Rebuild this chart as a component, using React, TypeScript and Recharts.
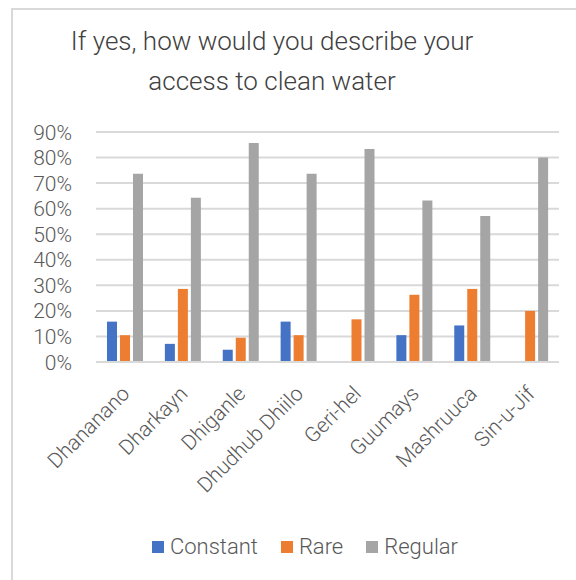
import { Bar, BarChart, CartesianGrid, Legend, XAxis, YAxis } from "recharts";

// Share of answers per village (fraction of respondents)
const villages = [
  "Dhananano",
  "Dharkayn",
  "Dhiganle",
  "Dhudhub Dhiilo",
  "Geri-hel",
  "Guumays",
  "Mashruuca",
  "Sin-u-Jif",
];
const constantShare = [0.158, 0.071, 0.048, 0.158, 0, 0.105, 0.143, 0];
const rareShare = [0.105, 0.286, 0.095, 0.105, 0.167, 0.263, 0.286, 0.2];
const regularShare = [0.737, 0.643, 0.857, 0.737, 0.833, 0.632, 0.571, 0.8];
const percentTicks = [0, 0.1, 0.2, 0.3, 0.4, 0.5, 0.6, 0.7, 0.8, 0.9];

const rows = villages.map((name, i) => ({
  name,
  constant: constantShare[i],
  rare: rareShare[i],
  regular: regularShare[i],
}));

const FONT = "Roboto, 'Noto Sans', sans-serif";
const TEXT = "#595959";
const GRID = "#D9D9D9";

function VillageTick(props: any) {
  const { x, y, payload } = props;
  return (
    <g transform={`translate(${x + 6},${y + 33})`}>
      <text
        transform="rotate(-45)"
        textAnchor="end"
        fill={TEXT}
        fontSize={21}
        fontWeight={300}
        fontFamily={FONT}
      >
        {payload.value}
      </text>
    </g>
  );
}

function PercentTick(props: any) {
  const { y, payload } = props;
  return (
    <text
      x={72}
      y={y}
      dy="0.36em"
      textAnchor="end"
      fill={TEXT}
      fontSize={21}
      fontWeight={300}
      fontFamily={FONT}
    >
      {`${Math.round(payload.value * 100)}%`}
    </text>
  );
}

function SeriesLegend(props: any) {
  const { payload = [] } = props;
  return (
    <div
      style={{
        display: "flex",
        justifyContent: "center",
        gap: 23,
        fontFamily: FONT,
        fontWeight: 300,
        fontSize: 22,
        color: TEXT,
        lineHeight: "24px",
      }}
    >
      {payload.map((item: any) => (
        <span key={item.value} style={{ display: "flex", alignItems: "center" }}>
          <span
            style={{
              width: 12,
              height: 12,
              background: item.color,
              marginRight: 6,
              display: "inline-block",
            }}
          />
          {item.value}
        </span>
      ))}
    </div>
  );
}

export default function App() {
  return (
    <div
      style={{
        position: "absolute",
        left: 0,
        top: 0,
        width: 576,
        height: 580,
        overflow: "hidden",
        background: "#fff",
      }}
    >
      <div
        style={{
          position: "absolute",
          left: 11,
          top: 8,
          width: 700,
          height: 700,
          borderLeft: `2px solid ${GRID}`,
          borderTop: `2px solid ${GRID}`,
        }}
      />
      <div
        style={{
          position: "absolute",
          left: 0,
          top: 21,
          width: 544,
          textAlign: "center",
          fontFamily: FONT,
          fontWeight: 300,
          fontSize: 26,
          lineHeight: "40px",
          color: "#404040",
        }}
      >
        If yes, how would you describe your
        <br />
        access to clean water
      </div>
      <BarChart
        width={576}
        height={580}
        data={rows}
        barSize={10}
        barGap={3}
        margin={{ top: 132, right: 17, bottom: 0, left: 0 }}
        style={{ position: "absolute", left: 0, top: 0 }}
      >
        <CartesianGrid vertical={false} stroke={GRID} strokeWidth={2} />
        <XAxis
          dataKey="name"
          interval={0}
          height={218}
          tickLine={false}
          tickSize={0}
          tickMargin={0}
          axisLine={{ stroke: GRID, strokeWidth: 2 }}
          tick={<VillageTick />}
        />
        <YAxis
          width={96}
          domain={[0, 0.9]}
          ticks={percentTicks}
          interval={0}
          axisLine={false}
          tickLine={false}
          tick={<PercentTick />}
        />
        <Legend
          layout="horizontal"
          verticalAlign="middle"
          align="center"
          content={<SeriesLegend />}
          wrapperStyle={{ left: 0, top: 535, width: 610 }}
        />
        <Bar dataKey="constant" name="Constant" fill="#4472C4" isAnimationActive={false} />
        <Bar dataKey="rare" name="Rare" fill="#ED7D31" isAnimationActive={false} />
        <Bar dataKey="regular" name="Regular" fill="#A5A5A5" isAnimationActive={false} />
      </BarChart>
    </div>
  );
}
